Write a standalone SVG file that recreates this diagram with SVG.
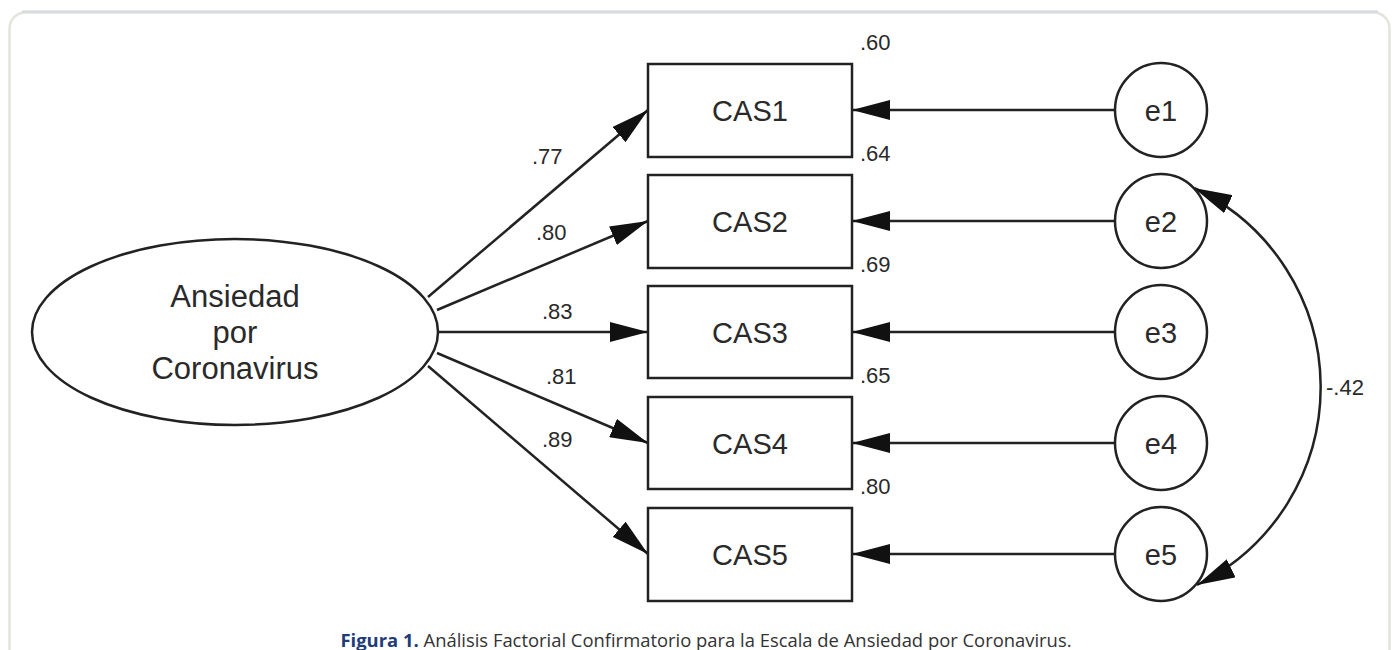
<svg xmlns="http://www.w3.org/2000/svg" width="1395" height="650" viewBox="0 0 1395 650">
<style>
.shape{fill:#fff;stroke:#222;stroke-width:2.5}
.conn{fill:none;stroke:#222;stroke-width:2.5}
.lbl{font-family:"Liberation Sans",Arial,sans-serif;fill:#2a2a2a}
.big{font-size:29px;text-anchor:middle}
.num{font-size:22px}
.cap{font-family:"Open Sans","Noto Sans",sans-serif;font-size:18px;fill:#333}
</style>
<defs>
<marker id="ah" viewBox="0 0 38 20" refX="38" refY="10" markerWidth="38" markerHeight="20" markerUnits="userSpaceOnUse" orient="auto-start-reverse">
<path d="M0,0 L38,10 L0,20 z" fill="#111"/>
</marker>
</defs>
<rect x="0" y="0" width="1395" height="650" fill="#fff"/>
<rect x="9.5" y="12.5" width="1380" height="720" rx="16" fill="#fff" stroke="#e4e3dc" stroke-width="2.5"/>
<line x1="22" y1="11.5" x2="1378" y2="11.5" stroke="#d2d9df" stroke-width="2"/>

<g id="connectors">
<line class="conn" x1="428" y1="297" x2="648" y2="110" marker-end="url(#ah)"/>
<line class="conn" x1="437" y1="310" x2="648" y2="221" marker-end="url(#ah)"/>
<line class="conn" x1="438" y1="332" x2="648" y2="332" marker-end="url(#ah)"/>
<line class="conn" x1="437" y1="353" x2="648" y2="443" marker-end="url(#ah)"/>
<line class="conn" x1="428" y1="366" x2="648" y2="554" marker-end="url(#ah)"/>
<line class="conn" x1="1115" y1="110" x2="852" y2="110" marker-end="url(#ah)"/>
<line class="conn" x1="1115" y1="221" x2="852" y2="221" marker-end="url(#ah)"/>
<line class="conn" x1="1115" y1="332" x2="852" y2="332" marker-end="url(#ah)"/>
<line class="conn" x1="1115" y1="443" x2="852" y2="443" marker-end="url(#ah)"/>
<line class="conn" x1="1115" y1="554" x2="852" y2="554" marker-end="url(#ah)"/>
<path class="conn" d="M1194,188 A220,220 0 0 1 1197,585" marker-start="url(#ah)" marker-end="url(#ah)"/>
<text class="lbl num" x="532" y="164">.77</text>
<text class="lbl num" x="536" y="240">.80</text>
<text class="lbl num" x="542" y="319">.83</text>
<text class="lbl num" x="546" y="384">.81</text>
<text class="lbl num" x="542" y="447">.89</text>
<text class="lbl num" x="1326" y="395">-.42</text>
</g>

<g id="factor">
<ellipse class="shape" cx="235" cy="332" rx="203" ry="93"/>
<text class="lbl big" x="235" y="307" style="font-size:31px">Ansiedad</text>
<text class="lbl big" x="235" y="343" style="font-size:31px">por</text>
<text class="lbl big" x="235" y="379" style="font-size:31px">Coronavirus</text>
</g>

<g id="CAS1"><rect class="shape" x="648" y="64" width="204" height="93"/><text class="lbl big" x="750" y="121">CAS1</text><text class="lbl num" x="860" y="50">.60</text></g>
<g id="CAS2"><rect class="shape" x="648" y="175" width="204" height="93"/><text class="lbl big" x="750" y="232">CAS2</text><text class="lbl num" x="860" y="161">.64</text></g>
<g id="CAS3"><rect class="shape" x="648" y="286" width="204" height="92"/><text class="lbl big" x="750" y="343">CAS3</text><text class="lbl num" x="860" y="272">.69</text></g>
<g id="CAS4"><rect class="shape" x="648" y="397" width="204" height="92"/><text class="lbl big" x="750" y="454">CAS4</text><text class="lbl num" x="860" y="383">.65</text></g>
<g id="CAS5"><rect class="shape" x="648" y="508" width="204" height="93"/><text class="lbl big" x="750" y="565">CAS5</text><text class="lbl num" x="860" y="494">.80</text></g>

<g id="e1"><ellipse class="shape" cx="1161" cy="110" rx="46" ry="47"/><text class="lbl big" x="1161" y="121">e1</text></g>
<g id="e2"><ellipse class="shape" cx="1161" cy="221" rx="46" ry="47"/><text class="lbl big" x="1161" y="232">e2</text></g>
<g id="e3"><ellipse class="shape" cx="1161" cy="332" rx="46" ry="47"/><text class="lbl big" x="1161" y="343">e3</text></g>
<g id="e4"><ellipse class="shape" cx="1161" cy="443" rx="46" ry="47"/><text class="lbl big" x="1161" y="454">e4</text></g>
<g id="e5"><ellipse class="shape" cx="1161" cy="554" rx="46" ry="47"/><text class="lbl big" x="1161" y="565">e5</text></g>

<g id="caption">
<text class="cap" x="706" y="647" text-anchor="middle" textLength="731" lengthAdjust="spacingAndGlyphs"><tspan fill="#1f3c7a" font-weight="bold">Figura 1.</tspan> Análisis Factorial Confirmatorio para la Escala de Ansiedad por Coronavirus.</text>
</g>
</svg>
